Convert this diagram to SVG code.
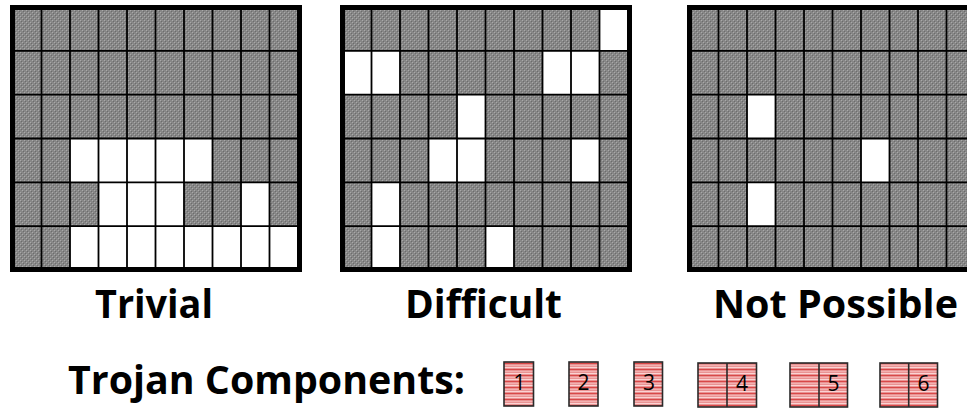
<svg xmlns="http://www.w3.org/2000/svg" width="967" height="408" viewBox="0 0 967 408">
<defs>
<pattern id="gray" width="4" height="4" patternUnits="userSpaceOnUse">
<rect width="4" height="4" fill="#878787"/>
<rect x="0" y="0" width="1" height="1" fill="#a9a9a9"/>
<rect x="2" y="2" width="1" height="1" fill="#a9a9a9"/>
<rect x="1" y="1" width="1" height="1" fill="#6c6c6c"/>
<rect x="3" y="3" width="1" height="1" fill="#6c6c6c"/>
</pattern>
<pattern id="red" width="6" height="6" patternUnits="userSpaceOnUse">
<rect width="6" height="6" fill="#e99393"/>
<rect y="1" width="6" height="1" fill="#fbd3d3"/>
<rect y="3" width="6" height="1" fill="#d84848"/>
<rect y="5" width="6" height="1" fill="#f3b0b0"/>
</pattern>
<path id="lines" d="M41.5 7V270M70 7V270M98.5 7V270M127 7V270M155.5 7V270M184 7V270M212.5 7V270M241 7V270M269.5 7V270M13 50.8H298M13 94.7H298M13 138.5H298M13 182.3H298M13 226.2H298"/>
</defs>
<style>
.bg{fill:url(#gray)}
.w{fill:#fff}
.gl{fill:none;stroke:#000;stroke-width:1.8}
.bd{fill:none;stroke:#000;stroke-width:5}
.lab{font-family:"Open Sans","Liberation Sans",sans-serif;font-weight:bold;font-size:40px;fill:#000}
.comp{fill:url(#red);stroke:#2a2a2a;stroke-width:1.6}
.num{font-family:"Open Sans","Liberation Sans",sans-serif;font-size:21px;fill:#000;text-anchor:middle}
</style>
<g id="grid-trivial">
<rect class="bg" x="12.5" y="7.5" width="287" height="262"/>
<rect class="w" x="70" y="138.5" width="142.5" height="43.8"/>
<rect class="w" x="98.5" y="182.3" width="85.5" height="43.9"/>
<rect class="w" x="241" y="182.3" width="28.5" height="43.9"/>
<rect class="w" x="70" y="226.2" width="228" height="43.8"/>
<use href="#lines" class="gl"/>
<rect class="bd" x="12.5" y="7.5" width="287" height="262"/>
</g>
<g id="grid-difficult" transform="translate(330 0)">
<rect class="bg" x="12.5" y="7.5" width="287" height="262"/>
<rect class="w" x="269.5" y="7" width="28.5" height="43.8"/>
<rect class="w" x="13" y="50.8" width="57" height="43.9"/>
<rect class="w" x="212.5" y="50.8" width="57" height="43.9"/>
<rect class="w" x="127" y="94.7" width="28.5" height="43.8"/>
<rect class="w" x="98.5" y="138.5" width="57" height="43.8"/>
<rect class="w" x="241" y="138.5" width="28.5" height="43.8"/>
<rect class="w" x="41.5" y="182.3" width="28.5" height="87.7"/>
<rect class="w" x="155.5" y="226.2" width="28.5" height="43.8"/>
<use href="#lines" class="gl"/>
<rect class="bd" x="12.5" y="7.5" width="287" height="262"/>
</g>
<g id="grid-not-possible" transform="translate(677 0)">
<rect class="bg" x="12.5" y="7.5" width="287" height="262"/>
<rect class="w" x="70" y="94.7" width="28.5" height="43.8"/>
<rect class="w" x="184" y="138.5" width="28.5" height="43.8"/>
<rect class="w" x="70" y="182.3" width="28.5" height="43.9"/>
<use href="#lines" class="gl"/>
<rect class="bd" x="12.5" y="7.5" width="287" height="262"/>
</g>
<g id="labels">
<text class="lab" x="95" y="318" textLength="118" lengthAdjust="spacingAndGlyphs">Trivial</text>
<text class="lab" x="405" y="318" textLength="157" lengthAdjust="spacingAndGlyphs">Difficult</text>
<text class="lab" x="713" y="318" textLength="245" lengthAdjust="spacingAndGlyphs">Not Possible</text>
<text class="lab" x="68" y="394" textLength="397" lengthAdjust="spacingAndGlyphs">Trojan Components:</text>
</g>
<g id="comp-1"><rect class="comp" x="504" y="362" width="29.5" height="44"/><text class="num" x="519.5" y="390">1</text></g>
<g id="comp-2"><rect class="comp" x="569" y="362" width="29" height="44"/><text class="num" x="583.5" y="390">2</text></g>
<g id="comp-3"><rect class="comp" x="634" y="362" width="28.5" height="44"/><text class="num" x="649" y="390">3</text></g>
<g id="comp-4"><rect class="comp" x="698" y="363" width="58.5" height="44"/><path d="M727 363V407" stroke="#2a2a2a" stroke-width="1.6"/><text class="num" x="742" y="391">4</text></g>
<g id="comp-5"><rect class="comp" x="790" y="363" width="57.5" height="44"/><path d="M819 363V407" stroke="#2a2a2a" stroke-width="1.6"/><text class="num" x="833.5" y="391">5</text></g>
<g id="comp-6"><rect class="comp" x="880" y="363" width="57.5" height="44"/><path d="M908.7 363V407" stroke="#2a2a2a" stroke-width="1.6"/><text class="num" x="923.5" y="391">6</text></g>
</svg>
